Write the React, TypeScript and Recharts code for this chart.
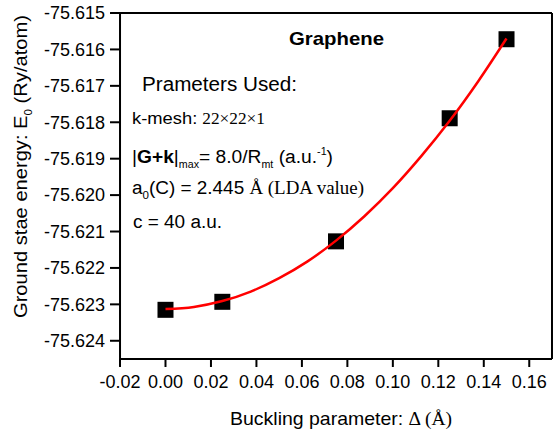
import { ComposedChart, Line, Scatter, XAxis, YAxis } from "recharts";

// puntos calculados (Δ en Å, energía en Ry/atom)
const deltaPts = [0, 0.025, 0.075, 0.125, 0.15];
const energyPts = [-75.62315, -75.62293, -75.62127, -75.61789, -75.61572];

// curva de ajuste
const fitDelta = [0, 0.0125, 0.025, 0.0375, 0.05, 0.0625, 0.075, 0.0875, 0.1, 0.1125, 0.125, 0.1375, 0.15];
const fitEnergy = [
  -75.62313, -75.62307, -75.62291, -75.62265, -75.62228, -75.62182, -75.62125, -75.62058, -75.61981, -75.61893,
  -75.61796, -75.61688, -75.6157,
];

const xTicks = [-0.02, 0, 0.02, 0.04, 0.06, 0.08, 0.1, 0.12, 0.14, 0.16];
const xMinorTicks = [-0.01, 0.01, 0.03, 0.05, 0.07, 0.09, 0.11, 0.13, 0.15];
const yTicks = [-75.624, -75.623, -75.622, -75.621, -75.62, -75.619, -75.618, -75.617, -75.616, -75.615];
const yMinorTicks = [-75.6235, -75.6225, -75.6215, -75.6205, -75.6195, -75.6185, -75.6175, -75.6165, -75.6155];

const puntos = deltaPts.map((d, i) => ({ d, e: energyPts[i] }));
const ajuste = fitDelta.map((d, i) => ({ d, e: fitEnergy[i] }));

const SANS = '"Liberation Sans", Arial, sans-serif';
const SERIF = '"Liberation Serif", "Times New Roman", serif';
const xDom: [number, number] = [-0.02, 0.17];
const yDom: [number, number] = [-75.6245, -75.615];
const FINO = 0.01; // ejes casi sin grosor para que se superpongan

const Cuadro = (props: any) => {
  const { cx, cy } = props;
  if (cx == null || cy == null) return <g />;
  return <rect x={cx - 8} y={cy - 8} width={16} height={16} fill="#000" />;
};

const tickTxt = { fill: "#000", fontSize: 18, fontFamily: SANS };

export default function App() {
  return (
    <div style={{ position: "absolute", left: 0, top: 0, width: 554, height: 437, background: "#fff" }}>
      <ComposedChart width={554} height={437} margin={{ top: 13, right: 2, bottom: 78, left: 120 }}>
        <XAxis
          xAxisId="x"
          dataKey="d"
          type="number"
          domain={xDom}
          ticks={xTicks}
          allowDataOverflow
          height={FINO}
          stroke="#000"
          strokeWidth={2}
          tickSize={8}
          tickMargin={8}
          tick={tickTxt}
          tickFormatter={(v: number) => v.toFixed(2)}
        />
        <XAxis
          xAxisId="xm"
          type="number"
          domain={xDom}
          ticks={xMinorTicks}
          allowDataOverflow
          height={FINO}
          stroke="#000"
          strokeWidth={2}
          axisLine={false}
          tickSize={5}
          tick={false}
        />
        <XAxis xAxisId="top" orientation="top" type="number" domain={xDom} height={FINO} stroke="#000" strokeWidth={2} tick={false} tickLine={false} />
        <YAxis
          yAxisId="y"
          type="number"
          domain={yDom}
          ticks={yTicks}
          allowDataOverflow
          width={FINO}
          stroke="#000"
          strokeWidth={2}
          tickSize={10}
          tickMargin={5}
          tick={tickTxt}
          tickFormatter={(v: number) => v.toFixed(3)}
        />
        <YAxis
          yAxisId="ym"
          type="number"
          domain={yDom}
          ticks={yMinorTicks}
          allowDataOverflow
          width={FINO}
          stroke="#000"
          strokeWidth={2}
          axisLine={false}
          tickSize={5}
          tick={false}
        />
        <YAxis yAxisId="right" orientation="right" type="number" domain={yDom} width={FINO} stroke="#000" strokeWidth={2} tick={false} tickLine={false} />
        <Line
          xAxisId="x"
          yAxisId="y"
          data={ajuste}
          dataKey="e"
          type="monotone"
          stroke="#ff0000"
          strokeWidth={2.5}
          dot={false}
          isAnimationActive={false}
          zIndex={700}
        />
        <Scatter xAxisId="x" yAxisId="y" data={puntos} dataKey="e" shape={Cuadro} isAnimationActive={false} zIndex={300} />
      </ComposedChart>

      <svg width={554} height={437} style={{ position: "absolute", left: 0, top: 0, pointerEvents: "none" }}>
        <g fontFamily={SANS} fill="#000">
          <text x={289} y={45} fontSize={19} fontWeight="bold" textLength={95} lengthAdjust="spacingAndGlyphs">
            Graphene
          </text>
          <text x={142} y={91} fontSize={20} textLength={155} lengthAdjust="spacingAndGlyphs">
            Prameters Used:
          </text>
          <text x={132} y={124} fontSize={17} textLength={133} lengthAdjust="spacingAndGlyphs">
            k-mesh: <tspan fontFamily={SERIF} fontSize={16}>22×22×1</tspan>
          </text>
          <text x={132} y={163} fontSize={18} textLength={201} lengthAdjust="spacingAndGlyphs">
            |<tspan fontWeight="bold">G+k</tspan>|
            <tspan fontSize={10} dy={5}>max</tspan>
            <tspan dy={-5}>= 8.0/R</tspan>
            <tspan fontSize={10} dy={5}>mt</tspan>
            <tspan dy={-5}> (a.u.</tspan>
            <tspan fontSize={10} dy={-8}>-1</tspan>
            <tspan dy={8}>)</tspan>
          </text>
          <text x={132} y={194} fontSize={18} textLength={232} lengthAdjust="spacingAndGlyphs">
            a<tspan fontSize={11} dy={5}>0</tspan>
            <tspan dy={-5}>(C) = 2.445 </tspan>
            <tspan fontFamily={SERIF}>Å (LDA value)</tspan>
          </text>
          <text x={133} y={228} fontSize={18} textLength={89} lengthAdjust="spacingAndGlyphs">
            c = 40 a.u.
          </text>
          <text x={230} y={425} fontSize={19} textLength={222} lengthAdjust="spacingAndGlyphs">
            Buckling parameter: <tspan fontFamily={SERIF}>Δ (Å)</tspan>
          </text>
          <text
            x={0}
            y={0}
            fontSize={19}
            textAnchor="middle"
            textLength={303}
            lengthAdjust="spacingAndGlyphs"
            transform="translate(27,166.5) rotate(-90)"
          >
            Ground stae energy: E<tspan fontSize={11} dy={5}>0</tspan>
            <tspan dy={-5}> (Ry/atom)</tspan>
          </text>
        </g>
      </svg>
    </div>
  );
}
